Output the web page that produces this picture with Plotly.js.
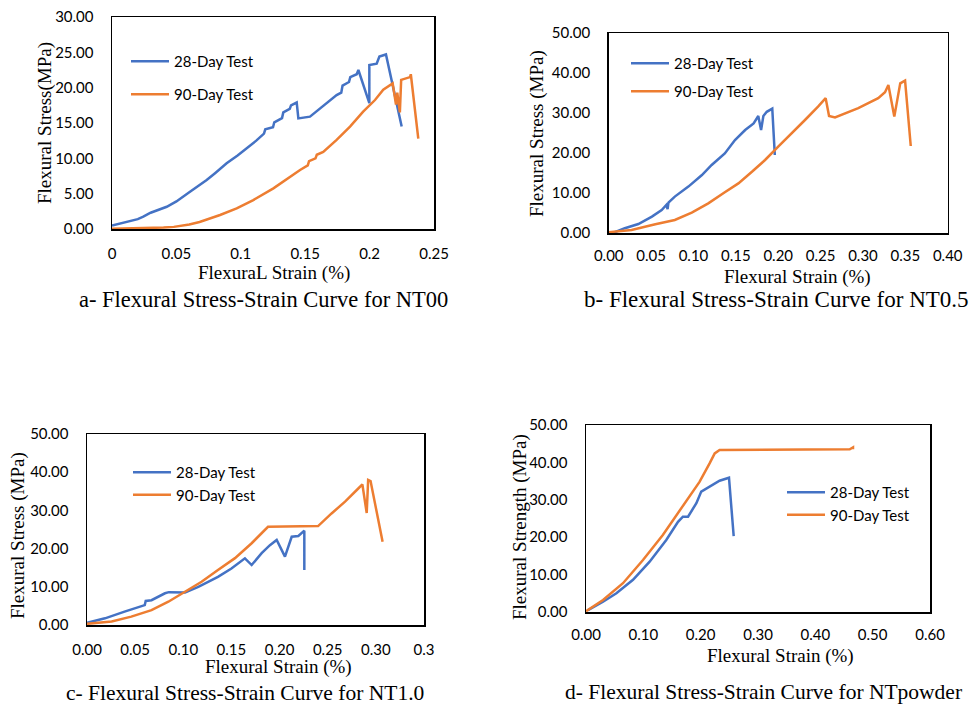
<!DOCTYPE html>
<html>
<head>
<meta charset="utf-8">
<script src="https://cdn.plot.ly/plotly-3.0.1.min.js"></script>
<style>
  html, body { margin: 0; padding: 0; background: #ffffff; }
  #chart { width: 971px; height: 706px; }
</style>
</head>
<body>
<div id="chart"></div>
<script>
// ---------- DATA ----------
var seriesNames = ["28-Day Test", "90-Day Test"];

// a- NT00
var a28_x = [0, 0.01, 0.02, 0.0243, 0.03, 0.0425, 0.05, 0.06, 0.07, 0.0735, 0.08, 0.089, 0.0975, 0.1046, 0.112, 0.118, 0.119, 0.125, 0.126, 0.132, 0.133, 0.138, 0.139, 0.1434, 0.1447, 0.1537, 0.1667, 0.1744, 0.178, 0.179, 0.184, 0.185, 0.19, 0.1913, 0.1998, 0.1998, 0.2055, 0.2076, 0.2127, 0.2249];
var a28_y = [0.5, 0.9, 1.4, 1.74, 2.3, 3.15, 3.9, 5.2, 6.4, 6.93, 7.9, 9.29, 10.4, 11.4, 12.5, 13.5, 14.1, 14.4, 15.1, 15.7, 16.5, 17.0, 17.5, 17.9, 15.65, 15.9, 17.8, 18.95, 19.3, 20.3, 20.8, 21.5, 21.9, 22.5, 17.8, 23.2, 23.4, 24.4, 24.7, 14.5];
var a90_x = [0, 0.02, 0.04, 0.048, 0.06, 0.068, 0.0839, 0.0968, 0.1097, 0.1253, 0.138, 0.146, 0.152, 0.153, 0.158, 0.159, 0.164, 0.1744, 0.1848, 0.195, 0.2042, 0.2106, 0.2179, 0.2205, 0.2215, 0.2235, 0.2245, 0.2314, 0.232, 0.2378];
var a90_y = [0.05, 0.1, 0.2, 0.3, 0.65, 1.0, 1.98, 2.92, 4.1, 5.75, 7.4, 8.35, 9.0, 9.6, 10.0, 10.5, 10.9, 12.6, 14.5, 16.6, 18.25, 19.7, 20.6, 17.6, 19.3, 16.5, 21.1, 21.5, 21.9, 12.8];

// b- NT0.5
var b28_x = [0.005, 0.019, 0.035, 0.051, 0.0625, 0.068, 0.0695, 0.0705, 0.078, 0.094, 0.110, 0.1215, 0.137, 0.149, 0.161, 0.171, 0.1765, 0.1798, 0.1825, 0.1865, 0.193, 0.196];
var b28_y = [0, 1.2, 2.25, 4.1, 5.75, 7.0, 6.0, 7.6, 9.1, 11.6, 14.5, 17.0, 19.9, 23.25, 25.75, 27.4, 29.25, 25.75, 29.25, 30.3, 31.1, 19.5];
var b90_x = [0, 0.027, 0.055, 0.078, 0.098, 0.1175, 0.137, 0.153, 0.169, 0.1845, 0.2, 0.216, 0.2316, 0.247, 0.256, 0.26, 0.267, 0.2945, 0.318, 0.326, 0.33, 0.337, 0.344, 0.3497, 0.3564];
var b90_y = [0.2, 0.75, 2.2, 3.25, 5.1, 7.4, 10.2, 12.4, 15.3, 18.25, 21.6, 24.9, 28.25, 31.6, 33.7, 29.25, 28.9, 31.2, 33.7, 35.2, 37, 29.1, 37.4, 38.1, 21.75];

// c- NT1.0
var c28_x = [0, 0.0187, 0.039, 0.060, 0.061, 0.067, 0.081, 0.085, 0.1018, 0.1156, 0.136, 0.150, 0.164, 0.171, 0.1814, 0.190, 0.197, 0.2056, 0.2126, 0.2195, 0.2257, 0.2257];
var c28_y = [0.6, 1.75, 3.5, 5.2, 6.3, 6.5, 8.3, 8.6, 8.5, 10, 12.6, 14.8, 17.45, 15.7, 18.8, 20.9, 22.25, 17.9, 23.1, 23.3, 24.7, 14.4];
var c90_x = [0, 0.0256, 0.046, 0.067, 0.0845, 0.1018, 0.119, 0.136, 0.1537, 0.171, 0.188, 0.205, 0.240, 0.254, 0.268, 0.282, 0.286, 0.2905, 0.292, 0.2945, 0.307];
var c90_y = [0.3, 0.9, 2.2, 3.9, 6.1, 8.7, 11.3, 14.4, 17.5, 21.4, 25.7, 25.8, 25.9, 29.2, 32.3, 35.8, 36.8, 29.3, 38, 37.7, 21.8];
var cTickVals = [0, 0.05, 0.10, 0.15, 0.20, 0.25, 0.30, 0.35];
var cTickText = ["0.00", "0.05", "0.10", "0.15", "0.20", "0.25", "0.30", "0.3"];

// d- NTpowder
var d28_x = [0.0035, 0.0297, 0.053, 0.082, 0.111, 0.140, 0.1605, 0.169, 0.178, 0.1925, 0.201, 0.2158, 0.233, 0.2494, 0.2576];
var d28_y = [0.5, 2.75, 5, 8.6, 13.45, 19.25, 24.1, 25.5, 25.5, 29.1, 32.2, 33.5, 35.1, 35.9, 20.3];
var d90_x = [0, 0.0297, 0.0645, 0.0994, 0.134, 0.169, 0.198, 0.2158, 0.2245, 0.233, 0.3727, 0.46, 0.4657, 0.4657];
var d90_y = [0.2, 3.2, 7.7, 13.9, 20.6, 28.2, 34.8, 39.8, 42.4, 43.3, 43.3, 43.5, 44.0, 43.5];

var captions = [
  "a- Flexural Stress-Strain Curve for NT00",
  "b- Flexural Stress-Strain Curve for NT0.5",
  "c- Flexural Stress-Strain Curve for NT1.0",
  "d- Flexural Stress-Strain Curve for NTpowder"
];
var xTitles = ["FlexuraL Strain (%)", "Flexural Strain (%)", "Flexural Strain (%)", "Flexural Strain (%)"];
var yTitles = ["Flexural Stress(MPa)", "Flexural Stress (MPa)", "Flexural Stress (MPa)", "Flexural Strength (MPa)"];

// ---------- STYLE / LAYOUT ----------
var W = 971, H = 706;
function px(v) { return v / W; }
function py(v) { return 1 - v / H; }
var BLUE = "#4472C4", ORANGE = "#ED7D31";
var TICKFONT = {family: "Lato, 'Open Sans', sans-serif", size: 15, color: "#000"};
var SERIF = "'Liberation Serif', 'Times New Roman', serif";

function tr(x, y, name, color, xa, ya, leg, grp) {
  return {x: x, y: y, name: name, type: "scatter", mode: "lines",
    line: {color: color, width: 2.5}, xaxis: xa, yaxis: ya,
    legend: leg, legendgroup: grp, hoverinfo: "x+y+name"};
}

var data = [
  tr(a28_x, a28_y, seriesNames[0], BLUE, "x", "y", "legend", "a28"),
  tr(a90_x, a90_y, seriesNames[1], ORANGE, "x", "y", "legend", "a90"),
  tr(b28_x, b28_y, seriesNames[0], BLUE, "x2", "y2", "legend2", "b28"),
  tr(b90_x, b90_y, seriesNames[1], ORANGE, "x2", "y2", "legend2", "b90"),
  tr(c28_x, c28_y, seriesNames[0], BLUE, "x3", "y3", "legend3", "c28"),
  tr(c90_x, c90_y, seriesNames[1], ORANGE, "x3", "y3", "legend3", "c90"),
  tr(d28_x, d28_y, seriesNames[0], BLUE, "x4", "y4", "legend4", "d28"),
  tr(d90_x, d90_y, seriesNames[1], ORANGE, "x4", "y4", "legend4", "d90")
];

function xax(domain, anchor, range, extra) {
  var o = {domain: domain, anchor: anchor, range: range, showgrid: false, zeroline: false,
    showline: true, mirror: true, linecolor: "#000", linewidth: 1.5,
    ticks: "", tickfont: TICKFONT, ticklabelstandoff: 10, fixedrange: true};
  for (var k in extra) o[k] = extra[k];
  return o;
}
function yax(domain, anchor, range, extra) {
  var o = {domain: domain, anchor: anchor, range: range, showgrid: false, zeroline: false,
    showline: true, mirror: true, linecolor: "#000", linewidth: 1.5,
    ticks: "", tickfont: TICKFONT, ticklabelstandoff: 14, tickformat: ".2f", fixedrange: true};
  for (var k in extra) o[k] = extra[k];
  return o;
}

function legendAt(xPx, yPx, gap) {
  return {x: px(xPx), y: py(yPx), xanchor: "left", yanchor: "top",
    bgcolor: "rgba(0,0,0,0)", borderwidth: 0, itemwidth: 38, tracegroupgap: gap,
    font: {family: "Lato, 'Open Sans', sans-serif", size: 15, color: "#000"}};
}

function ann(text, xPx, yPx, size, angle, anchor) {
  return {text: text, xref: "paper", yref: "paper", x: px(xPx), y: py(yPx),
    xanchor: anchor || "center", yanchor: "middle", showarrow: false, textangle: angle || 0,
    font: {family: SERIF, size: size, color: "#000"}};
}

var layout = {
  width: W, height: H, margin: {l: 0, r: 0, t: 0, b: 0},
  paper_bgcolor: "#fff", plot_bgcolor: "#fff",
  font: {family: "Lato, sans-serif", color: "#000"},
  showlegend: true,
  xaxis:  xax([px(112), px(434)], "y",  [0, 0.25], {dtick: 0.05, tick0: 0}),
  yaxis:  yax([py(229), py(17)],  "x",  [0, 30],   {dtick: 5}),
  xaxis2: xax([px(608.7), px(947.7)], "y2", [0, 0.40], {dtick: 0.05, tick0: 0, tickformat: ".2f", ticklabelstandoff: 8}),
  yaxis2: yax([py(233), py(33)],  "x2", [0, 50],   {dtick: 10}),
  xaxis3: xax([px(87), px(424)],  "y3", [0, 0.35], {tickmode: "array", tickvals: cTickVals, ticktext: cTickText}),
  yaxis3: yax([py(625), py(434)], "x3", [0, 50],   {dtick: 10}),
  xaxis4: xax([px(586), px(930)], "y4", [0, 0.60], {dtick: 0.1, tick0: 0, tickformat: ".2f", ticklabelstandoff: 8}),
  yaxis4: yax([py(612), py(425)], "x4", [0, 50],   {dtick: 10}),
  legend:  legendAt(126, 45, 10.5),
  legend2: legendAt(626, 47, 5.5),
  legend3: legendAt(128, 456, 0),
  legend4: legendAt(782, 476, 0),
  annotations: [
    ann(yTitles[0], 45, 123, 19, -90),
    ann(yTitles[1], 537, 134, 19, -90),
    ann(yTitles[2], 18, 536, 19, -90),
    ann(yTitles[3], 520, 527, 19, -90),
    ann(xTitles[0], 273.5, 273, 19),
    ann(xTitles[1], 797.5, 277, 19),
    ann(xTitles[2], 278, 667, 19),
    ann(xTitles[3], 780, 656, 19),
    ann(captions[0], 263, 300, 22.5),
    ann(captions[1], 582, 300, 23, 0, "left"),
    ann(captions[2], 245, 693, 21.5),
    ann(captions[3], 763, 692, 21.5)
  ]
};

Plotly.newPlot("chart", data, layout, {displayModeBar: false, staticPlot: true});
</script>
</body>
</html>
